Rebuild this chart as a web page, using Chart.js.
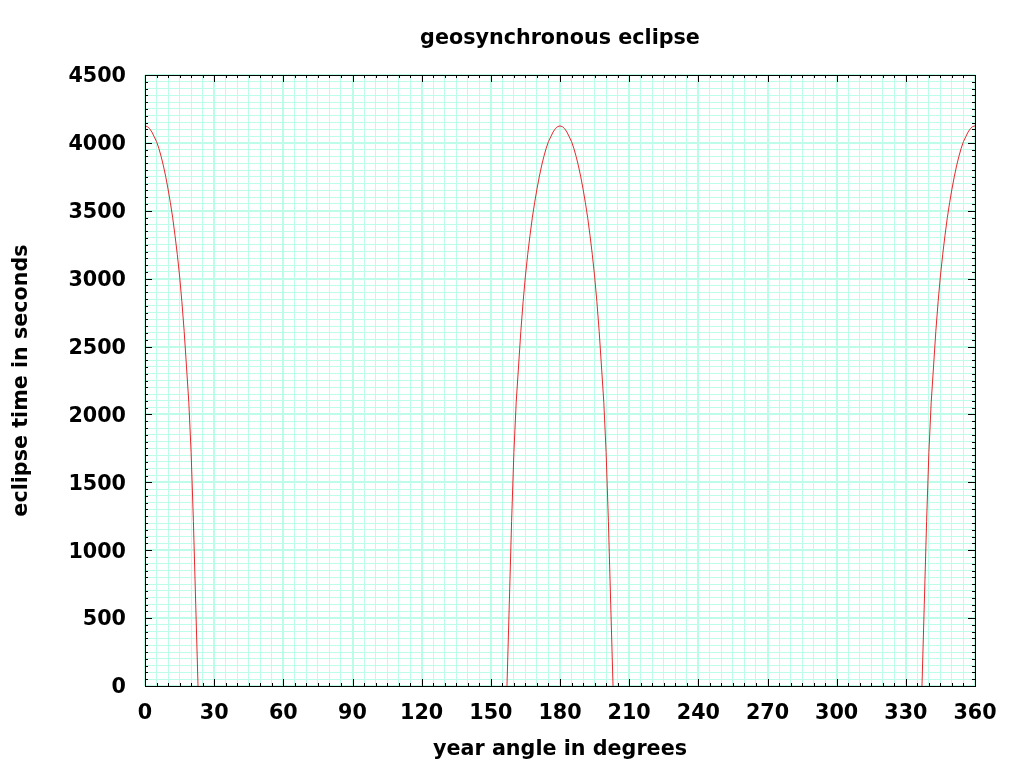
<!DOCTYPE html>
<html lang="en">
<head>
  <meta charset="UTF-8">
  <title>geosynchronous eclipse</title>
  <script src="https://cdn.jsdelivr.net/npm/chart.js"></script>
  <style>
    html, body { margin: 0; padding: 0; background: #fff; }
    canvas { display: block; }
  </style>
</head>
<body>
  <canvas id="eclipseChart" width="1024" height="768"></canvas>

  <script>
    // eclipse seasons, one sample per degree, starting at these year angles
    const seasonStart = [0, 157, 337];

    const seasonSpringEnd = [4125, 4120, 4105, 4080, 4045, 4010, 3960, 3900, 3830, 3750, 3660, 3560,
      3450, 3320, 3180, 3020, 2830, 2610, 2350, 2090, 1720, 1210, 600, 0];

    const seasonAutumn = [0, 600, 1210, 1720, 2090, 2350, 2610, 2830, 3020, 3180, 3320, 3450, 3560,
      3660, 3750, 3830, 3900, 3960, 4010, 4045, 4080, 4105, 4120, 4125, 4120, 4105, 4080, 4045, 4010,
      3960, 3900, 3830, 3750, 3660, 3560, 3450, 3320, 3180, 3020, 2830, 2610, 2350, 2090, 1720, 1210, 600, 0];

    const seasonSpringStart = [0, 600, 1210, 1720, 2090, 2350, 2610, 2830, 3020, 3180, 3320, 3450,
      3560, 3660, 3750, 3830, 3900, 3960, 4010, 4045, 4080, 4105, 4120, 4125];

    const xTickLabels = [0, 30, 60, 90, 120, 150, 180, 210, 240, 270, 300, 330, 360];
    const yTickLabels = [0, 500, 1000, 1500, 2000, 2500, 3000, 3500, 4000, 4500];

    const FONT = 'DejaVu Sans';
    const FSIZE = 20.7;
    const gridColor = 'rgb(188,252,232)';

    const points = [];
    [seasonSpringEnd, seasonAutumn, seasonSpringStart].forEach((vals, s) => {
      vals.forEach((v, i) => points.push({ x: seasonStart[s] + i, y: v }));
      points.push({ x: seasonStart[s] + vals.length - 0.5, y: null });
    });

    // gnuplot style frame with inward ticks on all four sides
    const framePlugin = {
      id: 'frame',
      afterDatasetsDraw(chart) {
        const { ctx, chartArea: a, scales: { x, y } } = chart;
        ctx.save();
        ctx.strokeStyle = '#000';
        ctx.lineWidth = 1;
        ctx.beginPath();
        for (let v = 0; v <= 360; v += 5) {
          const px = Math.round(x.getPixelForValue(v)) + 0.5;
          const len = xTickLabels.includes(v) ? 7 : 3;
          ctx.moveTo(px, a.bottom); ctx.lineTo(px, a.bottom - len);
          ctx.moveTo(px, a.top); ctx.lineTo(px, a.top + len);
        }
        for (let v = 0; v <= 4500; v += 50) {
          const py = Math.round(y.getPixelForValue(v)) + 0.5;
          const len = yTickLabels.includes(v) ? 7 : 3;
          ctx.moveTo(a.left, py); ctx.lineTo(a.left + len, py);
          ctx.moveTo(a.right, py); ctx.lineTo(a.right - len, py);
        }
        ctx.stroke();
        ctx.strokeRect(Math.round(a.left) + 0.5, Math.round(a.top) + 0.5,
          Math.round(a.right - a.left), Math.round(a.bottom - a.top));
        ctx.restore();
      }
    };

    const ctx = document.getElementById('eclipseChart').getContext('2d');
    new Chart(ctx, {
      type: 'line',
      data: {
        datasets: [{
          data: points,
          borderColor: '#e8282c',
          borderWidth: 1,
          pointRadius: 0,
          tension: 0,
          spanGaps: false
        }]
      },
      plugins: [framePlugin],
      options: {
        responsive: false,
        animation: false,
        layout: { padding: { left: 0, right: 49, top: 0, bottom: 0 } },
        plugins: {
          legend: { display: false },
          tooltip: { enabled: false },
          title: {
            display: true,
            text: 'geosynchronous eclipse',
            fullSize: false,
            color: '#000',
            font: { family: FONT, size: FSIZE, weight: 'bold' },
            padding: { top: 26.5, bottom: 23.66 }
          }
        },
        scales: {
          x: {
            type: 'linear',
            min: 0,
            max: 360,
            afterFit(scale) { scale.height = 82; },
            border: { display: false },
            grid: {
              color: gridColor,
              drawTicks: false,
              lineWidth: c => (xTickLabels.includes(c.tick.value) ? 2 : 1)
            },
            ticks: {
              stepSize: 5,
              autoSkip: false,
              maxRotation: 0,
              padding: 15.5,
              color: '#000',
              font: { family: FONT, size: FSIZE, weight: 'bold' },
              callback: v => (xTickLabels.includes(v) ? String(v) : '')
            },
            title: {
              display: true,
              text: 'year angle in degrees',
              color: '#000',
              font: { family: FONT, size: FSIZE, weight: 'bold' },
              padding: { top: 0, bottom: 6 }
            }
          },
          y: {
            min: 0,
            max: 4500,
            afterFit(scale) { scale.width = 145; },
            border: { display: false },
            grid: {
              color: gridColor,
              drawTicks: false,
              lineWidth: c => (yTickLabels.includes(c.tick.value) ? 2 : 1)
            },
            ticks: {
              stepSize: 50,
              autoSkip: false,
              padding: 19,
              labelOffset: 2,
              color: '#000',
              font: { family: FONT, size: FSIZE, weight: 'bold' },
              callback: v => (yTickLabels.includes(v) ? String(v) : '')
            },
            title: {
              display: true,
              text: 'eclipse time in seconds',
              color: '#000',
              font: { family: FONT, size: FSIZE, weight: 'bold' },
              padding: { top: 9, bottom: 0 }
            }
          }
        }
      }
    });
  </script>
</body>
</html>
